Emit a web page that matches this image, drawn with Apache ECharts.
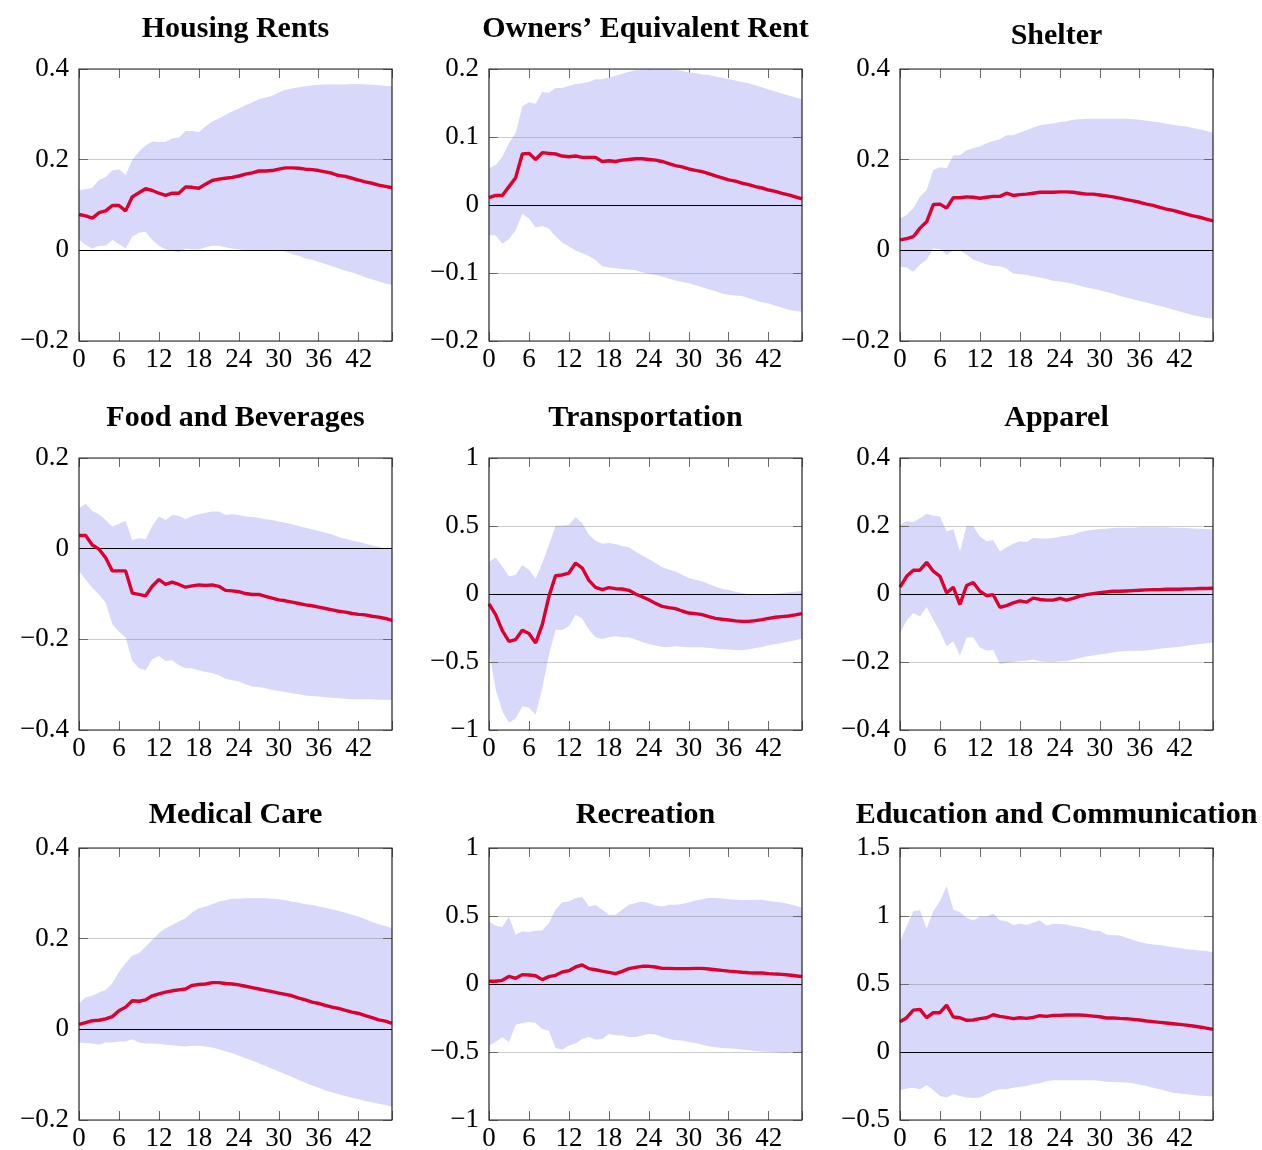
<!DOCTYPE html>
<html>
<head>
<meta charset="utf-8">
<title>Impulse responses by CPI component</title>
<script src="https://cdn.jsdelivr.net/npm/echarts@6/dist/echarts.min.js"></script>
<style>
  html, body { margin: 0; padding: 0; background: #fff; }
  #chart { width: 1262px; height: 1150px; }
</style>
</head>
<body>
<div id="chart"></div>
<script>
// Horizons (months after the shock) and the labelled x ticks
const horizons = [0,1,2,3,4,5,6,7,8,9,10,11,12,13,14,15,16,17,18,19,20,21,22,23,
                  24,25,26,27,28,29,30,31,32,33,34,35,36,37,38,39,40,41,42,43,44,45,46,47];
const xTicks = [0, 6, 12, 18, 24, 30, 36, 42];

const panelTitles = [
  'Housing Rents', 'Owners’ Equivalent Rent', 'Shelter',
  'Food and Beverages', 'Transportation', 'Apparel',
  'Medical Care', 'Recreation', 'Education and Communication'
];

// ---- Housing Rents ----
const housingRentsTicks = [-0.2, 0, 0.2, 0.4];
const housingRentsIrf = [0.079,0.076,0.071,0.083,0.087,0.099,0.099,0.087,0.118,0.127,
  0.136,0.132,0.126,0.121,0.126,0.126,0.140,0.139,0.137,0.146,
  0.154,0.157,0.159,0.161,0.164,0.168,0.171,0.175,0.175,0.176,
  0.179,0.182,0.182,0.181,0.179,0.178,0.176,0.173,0.170,0.165,
  0.163,0.159,0.155,0.151,0.148,0.144,0.141,0.138];
const housingRentsUpper = [0.132,0.135,0.138,0.155,0.161,0.176,0.179,0.166,0.199,0.218,
  0.231,0.240,0.239,0.239,0.247,0.249,0.263,0.263,0.261,0.273,
  0.284,0.291,0.299,0.306,0.313,0.320,0.326,0.333,0.337,0.341,
  0.348,0.354,0.357,0.360,0.362,0.364,0.365,0.366,0.366,0.366,
  0.366,0.367,0.367,0.366,0.365,0.364,0.363,0.362];
const housingRentsLower = [0.024,0.012,0.004,0.010,0.010,0.023,0.014,0.004,0.030,0.039,
  0.041,0.023,0.010,0.002,-0.001,-0.004,0.004,0.002,0.002,0.007,
  0.010,0.010,0.007,0.004,0.002,0.001,0.001,0.001,0.001,0.001,
  0.001,-0.003,-0.008,-0.012,-0.018,-0.021,-0.026,-0.030,-0.035,-0.040,
  -0.045,-0.049,-0.054,-0.060,-0.064,-0.069,-0.073,-0.076];

// ---- Owners' Equivalent Rent ----
const oerTicks = [-0.2, -0.1, 0, 0.1, 0.2];
const oerIrf = [0.011,0.014,0.014,0.027,0.040,0.075,0.076,0.067,0.077,0.076,
  0.075,0.072,0.071,0.072,0.070,0.070,0.070,0.064,0.065,0.064,
  0.066,0.067,0.068,0.068,0.067,0.066,0.064,0.061,0.058,0.056,
  0.053,0.051,0.049,0.046,0.043,0.040,0.037,0.035,0.032,0.030,
  0.027,0.025,0.022,0.020,0.017,0.015,0.012,0.009];
const oerUpper = [0.054,0.059,0.071,0.091,0.106,0.145,0.151,0.149,0.166,0.165,
  0.172,0.172,0.175,0.178,0.179,0.181,0.185,0.185,0.187,0.190,
  0.193,0.196,0.198,0.199,0.199,0.199,0.199,0.199,0.199,0.197,
  0.195,0.194,0.192,0.191,0.189,0.187,0.185,0.183,0.181,0.179,
  0.176,0.173,0.170,0.167,0.164,0.161,0.158,0.156];
const oerLower = [-0.044,-0.045,-0.057,-0.050,-0.037,-0.013,-0.020,-0.033,-0.031,-0.035,
  -0.046,-0.055,-0.061,-0.067,-0.071,-0.075,-0.081,-0.090,-0.092,-0.093,
  -0.094,-0.095,-0.096,-0.099,-0.101,-0.103,-0.105,-0.108,-0.111,-0.113,
  -0.115,-0.118,-0.121,-0.124,-0.127,-0.130,-0.132,-0.133,-0.134,-0.137,
  -0.140,-0.143,-0.145,-0.148,-0.151,-0.154,-0.156,-0.157];

// ---- Shelter ----
const shelterTicks = [-0.2, 0, 0.2, 0.4];
const shelterIrf = [0.023,0.026,0.030,0.049,0.063,0.101,0.102,0.093,0.116,0.116,
  0.118,0.117,0.115,0.117,0.119,0.119,0.126,0.121,0.123,0.124,
  0.126,0.128,0.128,0.128,0.129,0.129,0.128,0.126,0.124,0.124,
  0.122,0.120,0.118,0.115,0.112,0.109,0.106,0.102,0.099,0.095,
  0.091,0.088,0.084,0.080,0.076,0.073,0.069,0.065];
const shelterUpper = [0.071,0.078,0.093,0.118,0.133,0.177,0.183,0.181,0.209,0.210,
  0.221,0.226,0.229,0.236,0.241,0.245,0.254,0.254,0.260,0.265,
  0.271,0.276,0.278,0.280,0.283,0.285,0.288,0.289,0.290,0.290,
  0.290,0.290,0.290,0.290,0.290,0.289,0.288,0.286,0.284,0.282,
  0.279,0.277,0.275,0.273,0.270,0.267,0.263,0.260];
const shelterLower = [-0.036,-0.038,-0.047,-0.032,-0.021,0.004,0.003,-0.010,-0.001,-0.001,
  -0.009,-0.020,-0.026,-0.031,-0.034,-0.035,-0.040,-0.051,-0.053,-0.054,
  -0.057,-0.060,-0.063,-0.067,-0.069,-0.071,-0.074,-0.078,-0.082,-0.085,
  -0.088,-0.092,-0.096,-0.101,-0.104,-0.108,-0.112,-0.115,-0.119,-0.123,
  -0.126,-0.131,-0.135,-0.139,-0.143,-0.146,-0.149,-0.151];

// ---- Food and Beverages ----
const foodTicks = [-0.4, -0.2, 0, 0.2];
const foodIrf = [0.029,0.029,0.008,-0.001,-0.020,-0.049,-0.049,-0.049,-0.098,-0.101,
  -0.104,-0.083,-0.068,-0.079,-0.074,-0.079,-0.085,-0.082,-0.080,-0.081,
  -0.080,-0.083,-0.092,-0.093,-0.095,-0.099,-0.101,-0.101,-0.105,-0.109,
  -0.113,-0.115,-0.118,-0.121,-0.124,-0.126,-0.129,-0.132,-0.135,-0.138,
  -0.140,-0.143,-0.145,-0.146,-0.149,-0.151,-0.154,-0.158];
const foodUpper = [0.089,0.099,0.083,0.076,0.063,0.049,0.055,0.061,0.019,0.023,
  0.021,0.050,0.071,0.063,0.074,0.072,0.065,0.072,0.076,0.079,
  0.082,0.082,0.074,0.076,0.074,0.071,0.070,0.068,0.065,0.063,
  0.060,0.057,0.054,0.050,0.046,0.043,0.039,0.035,0.031,0.026,
  0.022,0.018,0.015,0.011,0.007,0.004,0.000,-0.001];
const foodLower = [-0.049,-0.068,-0.086,-0.101,-0.119,-0.167,-0.183,-0.196,-0.248,-0.264,
  -0.268,-0.244,-0.237,-0.248,-0.246,-0.257,-0.264,-0.264,-0.268,-0.272,
  -0.274,-0.279,-0.287,-0.290,-0.293,-0.299,-0.304,-0.305,-0.308,-0.311,
  -0.314,-0.316,-0.319,-0.321,-0.324,-0.325,-0.326,-0.328,-0.329,-0.330,
  -0.331,-0.332,-0.332,-0.332,-0.332,-0.333,-0.333,-0.333];

// ---- Transportation ----
const transportTicks = [-1, -0.5, 0, 0.5, 1];
const transportIrf = [-0.073,-0.152,-0.269,-0.348,-0.335,-0.267,-0.291,-0.360,-0.225,-0.017,
  0.135,0.140,0.154,0.228,0.191,0.100,0.049,0.032,0.047,0.039,
  0.037,0.027,0.000,-0.020,-0.042,-0.069,-0.091,-0.100,-0.108,-0.125,
  -0.140,-0.144,-0.152,-0.166,-0.179,-0.186,-0.191,-0.198,-0.201,-0.201,
  -0.196,-0.188,-0.179,-0.171,-0.166,-0.162,-0.154,-0.144];
const transportUpper = [0.235,0.269,0.203,0.130,0.142,0.211,0.179,0.113,0.228,0.362,
  0.502,0.504,0.509,0.565,0.521,0.436,0.392,0.370,0.375,0.367,
  0.353,0.343,0.313,0.284,0.257,0.228,0.196,0.181,0.166,0.142,
  0.118,0.105,0.093,0.073,0.054,0.039,0.029,0.017,0.007,0.000,
  -0.002,-0.002,0.000,0.002,0.007,0.012,0.017,0.024];
const transportLower = [-0.421,-0.703,-0.862,-0.947,-0.916,-0.825,-0.837,-0.886,-0.690,-0.446,
  -0.262,-0.264,-0.237,-0.152,-0.181,-0.262,-0.318,-0.330,-0.318,-0.311,
  -0.318,-0.318,-0.335,-0.353,-0.367,-0.379,-0.389,-0.389,-0.384,-0.389,
  -0.392,-0.392,-0.392,-0.397,-0.401,-0.406,-0.409,-0.411,-0.411,-0.406,
  -0.397,-0.389,-0.377,-0.367,-0.360,-0.350,-0.340,-0.328];

// ---- Apparel ----
const apparelTicks = [-0.4, -0.2, 0, 0.2, 0.4];
const apparelIrf = [0.020,0.052,0.070,0.070,0.093,0.067,0.052,0.003,0.020,-0.031,
  0.025,0.034,0.008,-0.005,-0.002,-0.039,-0.034,-0.026,-0.020,-0.024,
  -0.012,-0.016,-0.018,-0.018,-0.013,-0.018,-0.013,-0.006,-0.002,0.001,
  0.004,0.006,0.008,0.008,0.009,0.010,0.011,0.012,0.013,0.013,
  0.014,0.014,0.014,0.015,0.015,0.016,0.016,0.017];
const apparelUpper = [0.204,0.214,0.212,0.223,0.236,0.230,0.228,0.184,0.191,0.125,
  0.201,0.199,0.169,0.155,0.158,0.125,0.137,0.148,0.155,0.153,
  0.165,0.163,0.163,0.165,0.169,0.171,0.174,0.182,0.186,0.189,
  0.191,0.192,0.194,0.195,0.195,0.195,0.196,0.196,0.196,0.196,
  0.196,0.195,0.195,0.194,0.193,0.192,0.191,0.191];
const apparelLower = [-0.115,-0.078,-0.056,-0.066,-0.038,-0.075,-0.110,-0.154,-0.139,-0.181,
  -0.129,-0.127,-0.157,-0.166,-0.165,-0.206,-0.203,-0.200,-0.198,-0.196,
  -0.193,-0.198,-0.199,-0.200,-0.198,-0.198,-0.193,-0.188,-0.184,-0.181,
  -0.178,-0.175,-0.171,-0.169,-0.168,-0.167,-0.167,-0.166,-0.164,-0.161,
  -0.159,-0.157,-0.155,-0.152,-0.149,-0.147,-0.145,-0.143];

// ---- Medical Care ----
const medicalTicks = [-0.2, 0, 0.2, 0.4];
const medicalIrf = [0.011,0.015,0.019,0.020,0.023,0.028,0.041,0.049,0.063,0.062,
  0.065,0.074,0.078,0.082,0.085,0.087,0.089,0.097,0.099,0.100,
  0.103,0.103,0.101,0.100,0.098,0.095,0.092,0.089,0.086,0.083,
  0.080,0.077,0.074,0.069,0.065,0.060,0.057,0.053,0.049,0.046,
  0.042,0.038,0.035,0.030,0.026,0.021,0.018,0.013];
const medicalUpper = [0.057,0.071,0.074,0.081,0.087,0.101,0.127,0.146,0.163,0.168,
  0.182,0.197,0.212,0.223,0.230,0.238,0.245,0.258,0.267,0.271,
  0.276,0.282,0.285,0.288,0.288,0.289,0.289,0.289,0.289,0.288,
  0.287,0.285,0.282,0.279,0.276,0.274,0.271,0.268,0.265,0.261,
  0.257,0.253,0.249,0.243,0.237,0.232,0.228,0.223];
const medicalLower = [-0.029,-0.030,-0.031,-0.034,-0.029,-0.029,-0.027,-0.027,-0.022,-0.029,
  -0.031,-0.031,-0.032,-0.034,-0.035,-0.037,-0.038,-0.036,-0.036,-0.038,
  -0.040,-0.044,-0.049,-0.053,-0.058,-0.064,-0.069,-0.075,-0.081,-0.087,
  -0.093,-0.099,-0.105,-0.112,-0.118,-0.124,-0.129,-0.135,-0.139,-0.143,
  -0.147,-0.151,-0.154,-0.158,-0.161,-0.164,-0.167,-0.171];

// ---- Recreation ----
const recreationTicks = [-1, -0.5, 0, 0.5, 1];
const recreationIrf = [0.020,0.020,0.027,0.056,0.042,0.069,0.066,0.061,0.032,0.054,
  0.064,0.088,0.098,0.125,0.140,0.113,0.105,0.095,0.086,0.076,
  0.093,0.113,0.122,0.130,0.130,0.125,0.115,0.115,0.113,0.113,
  0.113,0.115,0.115,0.110,0.105,0.100,0.095,0.091,0.086,0.083,
  0.081,0.081,0.076,0.073,0.071,0.066,0.061,0.054];
const recreationUpper = [0.460,0.428,0.419,0.497,0.362,0.387,0.382,0.392,0.394,0.448,
  0.546,0.602,0.607,0.632,0.639,0.570,0.580,0.546,0.509,0.509,
  0.546,0.583,0.595,0.607,0.595,0.578,0.570,0.583,0.583,0.588,
  0.600,0.614,0.624,0.632,0.632,0.629,0.624,0.619,0.617,0.617,
  0.619,0.619,0.610,0.605,0.600,0.588,0.575,0.563];
const recreationLower = [-0.453,-0.426,-0.389,-0.426,-0.299,-0.286,-0.279,-0.286,-0.330,-0.343,
  -0.470,-0.482,-0.453,-0.438,-0.404,-0.389,-0.409,-0.404,-0.367,-0.377,
  -0.379,-0.389,-0.389,-0.379,-0.367,-0.372,-0.389,-0.404,-0.414,-0.416,
  -0.426,-0.433,-0.446,-0.458,-0.465,-0.470,-0.472,-0.477,-0.482,-0.487,
  -0.492,-0.497,-0.499,-0.502,-0.509,-0.507,-0.502,-0.502];

// ---- Education and Communication ----
const educationTicks = [-0.5, 0, 0.5, 1, 1.5];
const educationIrf = [0.223,0.252,0.308,0.313,0.252,0.289,0.289,0.345,0.257,0.252,
  0.233,0.235,0.245,0.252,0.274,0.262,0.255,0.245,0.252,0.247,
  0.255,0.267,0.262,0.269,0.269,0.272,0.272,0.272,0.269,0.264,
  0.259,0.250,0.250,0.247,0.245,0.240,0.235,0.228,0.223,0.218,
  0.213,0.208,0.203,0.198,0.191,0.184,0.176,0.166];
const educationUpper = [0.815,0.925,1.035,1.043,0.906,1.035,1.109,1.219,1.048,1.028,
  0.987,0.967,0.999,0.994,1.018,0.969,0.962,0.933,0.945,0.933,
  0.950,0.969,0.930,0.942,0.942,0.938,0.925,0.920,0.906,0.891,
  0.889,0.864,0.859,0.857,0.840,0.823,0.808,0.798,0.791,0.786,
  0.778,0.771,0.764,0.756,0.752,0.747,0.742,0.734];
const educationLower = [-0.282,-0.269,-0.262,-0.274,-0.242,-0.279,-0.323,-0.335,-0.311,-0.323,
  -0.335,-0.338,-0.335,-0.311,-0.286,-0.274,-0.274,-0.262,-0.255,-0.250,
  -0.237,-0.230,-0.215,-0.208,-0.208,-0.208,-0.208,-0.208,-0.208,-0.208,
  -0.211,-0.218,-0.220,-0.223,-0.225,-0.230,-0.240,-0.250,-0.262,-0.274,
  -0.286,-0.299,-0.306,-0.311,-0.316,-0.321,-0.323,-0.328];

const panels = [
  { irf: housingRentsIrf, upper: housingRentsUpper, lower: housingRentsLower, ticks: housingRentsTicks },
  { irf: oerIrf, upper: oerUpper, lower: oerLower, ticks: oerTicks },
  { irf: shelterIrf, upper: shelterUpper, lower: shelterLower, ticks: shelterTicks },
  { irf: foodIrf, upper: foodUpper, lower: foodLower, ticks: foodTicks },
  { irf: transportIrf, upper: transportUpper, lower: transportLower, ticks: transportTicks },
  { irf: apparelIrf, upper: apparelUpper, lower: apparelLower, ticks: apparelTicks },
  { irf: medicalIrf, upper: medicalUpper, lower: medicalLower, ticks: medicalTicks },
  { irf: recreationIrf, upper: recreationUpper, lower: recreationLower, ticks: recreationTicks },
  { irf: educationIrf, upper: educationUpper, lower: educationLower, ticks: educationTicks }
];

// ---- layout and styling ----
const colLeft = [79, 489, 900];
const rowTop = [69, 458, 848];
const plotW = 313;
const plotH = 272;
// vertical offset of each title above its plot (titles with descenders sit higher)
const titleLift = [55, 55, 48, 55, 55, 55, 48, 48, 48];

const serif = "'Liberation Serif', 'DejaVu Serif', serif";
const bandColor = '#d8d8fa';
const lineColor = '#dc0030';
const gridLineColor = 'rgba(120,120,120,0.38)';
const tickColor = '#6a6a6a';

function fmtY(v) {
  const s = String(Number(v.toFixed(3)));
  return s.replace('-', '\u2212');
}

// Confidence band: one filled polygon, upper edge left-to-right then lower edge back
function bandRenderer(lower, upper) {
  return function (params, api) {
    if (params.dataIndex !== 0) return null;
    const pts = [];
    for (let j = 0; j < horizons.length; j++) pts.push(api.coord([horizons[j], upper[j]]));
    for (let j = horizons.length - 1; j >= 0; j--) pts.push(api.coord([horizons[j], lower[j]]));
    return {
      type: 'polygon',
      shape: { points: pts },
      style: { fill: bandColor, stroke: null }
    };
  };
}

const option = {
  animation: false,
  backgroundColor: '#ffffff',
  title: [], grid: [], xAxis: [], yAxis: [], series: []
};

panels.forEach((p, i) => {
  const col = i % 3, row = Math.floor(i / 3);
  const left = colLeft[col], top = rowTop[row];
  const yMin = p.ticks[0], yMax = p.ticks[p.ticks.length - 1];
  const yStep = p.ticks[1] - p.ticks[0];

  option.title.push({
    text: panelTitles[i],
    left: left + plotW / 2,
    top: top - titleLift[i],
    textAlign: 'center',
    padding: 0,
    textStyle: { fontFamily: serif, fontWeight: 'bold', fontSize: 30, color: '#000' }
  });

  option.grid.push({
    left: left, top: top, width: plotW, height: plotH,
    show: true, backgroundColor: 'rgba(0,0,0,0)',
    borderColor: '#222', borderWidth: 1.2, z: 10,
    outerBoundsMode: 'none'
  });

  const xBase = {
    gridIndex: i, type: 'value', min: 0, max: horizons[horizons.length - 1], interval: 6,
    axisLine: { show: false, onZero: false },
    axisTick: { show: true, inside: true, length: 9, lineStyle: { color: tickColor, width: 1 } },
    splitLine: { show: false }
  };
  option.xAxis.push(Object.assign({}, xBase, {
    position: 'bottom',
    axisLabel: {
      show: true, margin: 5, fontFamily: serif, fontSize: 27, color: '#000',
      formatter: v => (xTicks.indexOf(v) >= 0 ? String(v) : '')
    }
  }));
  option.xAxis.push(Object.assign({}, xBase, { position: 'top', axisLabel: { show: false } }));

  const yBase = {
    gridIndex: i, type: 'value', min: yMin, max: yMax, interval: yStep, z: 3,
    axisLine: { show: false, onZero: false },
    axisTick: { show: true, inside: true, length: 9, lineStyle: { color: tickColor, width: 1 } }
  };
  option.yAxis.push(Object.assign({}, yBase, {
    position: 'left',
    splitLine: { show: true, lineStyle: { color: gridLineColor, width: 1 } },
    axisLabel: {
      show: true, margin: 10, fontFamily: serif, fontSize: 27, color: '#000',
      formatter: v => fmtY(v)
    }
  }));
  option.yAxis.push(Object.assign({}, yBase, {
    position: 'right', splitLine: { show: false }, axisLabel: { show: false }
  }));

  const ax = { xAxisIndex: 2 * i, yAxisIndex: 2 * i };
  // shaded confidence band
  option.series.push(Object.assign({
    type: 'custom', name: 'band' + i, silent: true, z: 2,
    data: p.lower.map((v, j) => [horizons[j], v, p.upper[j]]),
    encode: { x: 0, y: [1, 2] },
    renderItem: bandRenderer(p.lower, p.upper)
  }, ax));
  // zero reference line
  option.series.push(Object.assign({
    type: 'line', name: 'zero' + i, data: [], silent: true, z: 4,
    markLine: {
      silent: true, symbol: 'none', label: { show: false },
      lineStyle: { color: '#000', width: 1, type: 'solid' },
      data: [{ yAxis: 0 }]
    }
  }, ax));
  // point estimate
  option.series.push(Object.assign({
    type: 'line', name: 'irf' + i,
    data: p.irf.map((v, j) => [horizons[j], v]),
    symbol: 'none', z: 5,
    lineStyle: { color: lineColor, width: 3.4 }
  }, ax));
});

const chart = echarts.init(document.getElementById('chart'), null, { renderer: 'canvas' });
chart.setOption(option);
</script>
</body>
</html>
